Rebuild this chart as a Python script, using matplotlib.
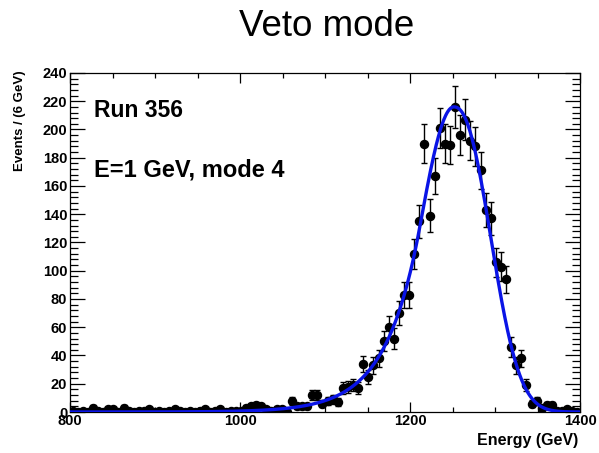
import numpy as np
import matplotlib
matplotlib.use('Agg')
import matplotlib.pyplot as plt
from matplotlib.ticker import MultipleLocator

plt.rcParams.update({
    "font.family": ["Liberation Sans", "DejaVu Sans"],
})

# histogram: 100 bins of 6 GeV from 800 to 1400
bin_lo = 800.0
bin_width = 6.0
counts = [
    1, 0, 1, 0, 3, 1, 0, 2, 2, 0,
    3, 1, 0, 1, 1, 2, 0, 1, 0, 1,
    2, 1, 0, 1, 0, 1, 2, 0, 1, 2,
    0, 1, 1, 1, 3, 4, 5, 4, 2, 1,
    2, 2, 0, 8, 4, 4, 4, 12, 12, 6,
    8, 9, 7, 17, 18, 19, 17, 34, 25, 33,
    38, 50, 60, 52, 70, 83, 83, 112, 135, 190,
    139, 167, 201, 190, 189, 216, 196, 207, 192, 188,
    171, 143, 137, 106, 103, 94, 46, 33, 38, 19,
    6, 8, 3, 5, 5, 1, 1, 2, 1, 0,
]

# fit result: gaussian core with exponential low-side tail,
# flat-topped (power 2.3) high side
fit_peak = 216.0
fit_mean = 1251.5
fit_sigma_lo = 40.0
fit_tail_k = 1.0
fit_sigma_hi = 41.5
fit_power_hi = 2.3

x_ticks = [800, 1000, 1200, 1400]
y_ticks = list(range(0, 241, 20))


def fit_curve(e):
    t_lo = (e - fit_mean) / fit_sigma_lo
    t_hi = np.abs(e - fit_mean) / fit_sigma_hi
    core_lo = np.exp(-0.5 * t_lo ** 2)
    tail = np.exp(0.5 * fit_tail_k ** 2 + fit_tail_k * t_lo)
    lo = np.where(t_lo < -fit_tail_k, tail, core_lo)
    hi = np.exp(-0.5 * t_hi ** fit_power_hi)
    return fit_peak * np.where(e < fit_mean, lo, hi)


counts = np.array(counts, dtype=float)
centers = bin_lo + bin_width * (np.arange(len(counts)) + 0.5)
errs = np.sqrt(counts)

fig = plt.figure(figsize=(5.99, 4.53), dpi=100)
ax = fig.add_axes([0.1169, 0.0905, 0.8514, 0.7484])

ax.errorbar(centers, counts, yerr=errs, fmt='o', color='black',
            markersize=5.8, elinewidth=1.0, capsize=2.0, capthick=1.0,
            zorder=2)

xs = np.linspace(800, 1400, 1200)
ax.plot(xs, fit_curve(xs), color='#0a14e6', lw=2.4, zorder=3,
        solid_capstyle='round')

ax.set_xlim(800, 1400)
ax.set_ylim(0, 240)
ax.xaxis.set_major_locator(MultipleLocator(200))
ax.xaxis.set_minor_locator(MultipleLocator(50))
ax.yaxis.set_major_locator(MultipleLocator(20))
ax.yaxis.set_minor_locator(MultipleLocator(4))
ax.set_xticks(x_ticks)
ax.set_yticks(y_ticks)

ax.tick_params(axis='both', which='both', direction='in', top=True,
               right=True, width=0.9, colors='black')
ax.tick_params(axis='y', which='major', length=11, labelsize=10.5, pad=2)
ax.tick_params(axis='y', which='minor', length=5.5)
ax.tick_params(axis='x', which='major', length=7.5, labelsize=10.5, pad=1.5)
ax.tick_params(axis='x', which='minor', length=3.8)
for lab in ax.get_xticklabels() + ax.get_yticklabels():
    lab.set_fontweight('bold')
for sp in ax.spines.values():
    sp.set_linewidth(0.9)

fig.text(0.546, 0.942, "Veto mode", ha='center', va='center', fontsize=26.5)
fig.text(0.033, 0.845, "Events / (6 GeV)", rotation=90, ha='center',
         va='top', fontsize=9.5, fontweight='bold')
fig.text(0.965, 0.028, "Energy (GeV)", ha='right', va='center',
         fontsize=11.5, fontweight='bold')

ax.text(0.047, 0.89, "Run 356", transform=ax.transAxes, ha='left',
        va='center', fontsize=16.5, fontweight='bold')
ax.text(0.047, 0.715, "E=1 GeV, mode 4", transform=ax.transAxes,
        ha='left', va='center', fontsize=17, fontweight='bold')

fig.savefig('out.png', dpi=100)
